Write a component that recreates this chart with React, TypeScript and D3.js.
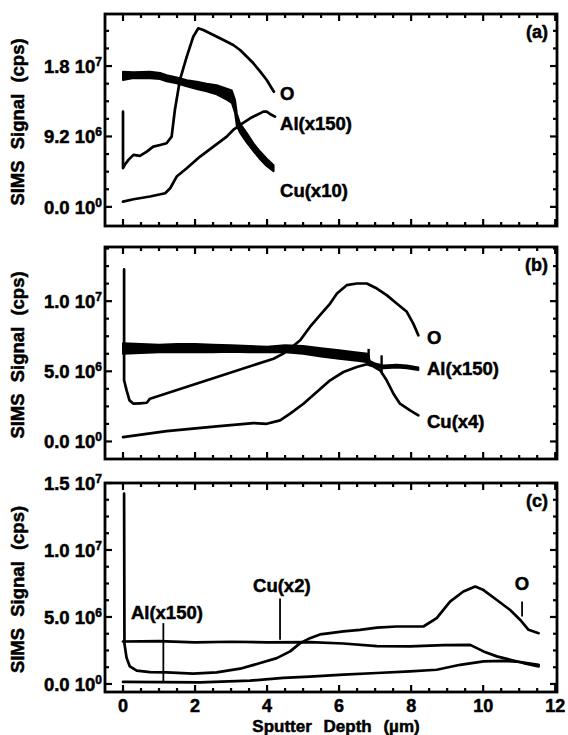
import React, { useRef, useEffect } from 'react';
import * as d3 from 'd3';

type Pt = [number, number];
type Band = [number, number, number];

// depth in um, signal in 1e6 cps
// panel (a)
const aO: Pt[] = [[0, 12.44], [0, 5.05], [0.05, 5.5], [0.15, 6.14], [0.29, 6.79], [0.47, 6.66], [0.66, 7.22], [0.84, 7.87], [1.03, 8.09], [1.21, 8.31], [1.35, 9.18], [1.44, 12.66], [1.58, 16.58], [1.77, 19.62], [1.95, 22.23], [2.09, 23.33], [2.23, 23.1], [2.51, 22.45], [2.79, 21.8], [3.06, 21.15], [3.25, 20.5], [3.44, 19.62], [3.62, 18.76], [3.81, 17.67], [3.99, 16.58], [4.13, 15.5], [4.19, 15.05]];
const aAl: Pt[] = [[0, 0.69], [0.29, 1.0], [0.75, 1.35], [1.17, 1.78], [1.31, 2.43], [1.49, 3.96], [1.77, 5.04], [2.14, 6.57], [2.51, 7.87], [2.88, 9.18], [3.06, 10.05], [3.25, 10.7], [3.53, 11.57], [3.71, 12.01], [3.9, 12.44], [3.99, 12.44], [4.08, 12.14], [4.22, 11.79]];
// noisy trace: depth, upper, lower
const aCu: Band[] = [[0, 17.67, 16.58], [0.29, 17.6, 16.85], [0.75, 17.67, 16.8], [1.03, 17.5, 16.7], [1.21, 17.2, 16.4], [1.49, 16.9, 16.15], [1.77, 16.55, 15.75], [2.05, 16.35, 15.4], [2.32, 16.1, 15.1], [2.6, 15.9, 14.7], [2.88, 15.45, 14.0], [3.02, 15.2, 13.6], [3.11, 13.97, 12.3], [3.16, 12.2, 10.6], [3.25, 10.9, 9.7], [3.44, 9.6, 8.4], [3.62, 8.3, 7.3], [3.81, 7.2, 6.2], [3.99, 6.3, 5.35], [4.18, 5.45, 4.65]];

// panel (b)
const bO: Pt[] = [[0.03, 12.26], [0.03, 4.36], [0.1, 3.64], [0.18, 2.93], [0.29, 2.69], [0.47, 2.72], [0.66, 2.76], [0.75, 3.05], [4.18, 5.9], [4.45, 6.26], [4.64, 6.62], [4.92, 7.21], [5.19, 8.16], [5.47, 9.0], [5.75, 9.83], [5.94, 10.55], [6.21, 11.14], [6.49, 11.26], [6.77, 11.26], [7.05, 10.9], [7.32, 10.43], [7.6, 9.83], [7.88, 9.24], [8.06, 8.4], [8.2, 7.57]];
const bAl: Band[] = [[0, 7.0, 6.25], [0.5, 6.95, 6.3], [1.0, 6.9, 6.35], [1.5, 6.95, 6.35], [2.0, 6.95, 6.35], [2.5, 6.9, 6.35], [3.0, 6.85, 6.4], [3.5, 6.8, 6.35], [4.0, 6.75, 6.35], [4.5, 6.85, 6.35], [5.0, 6.8, 6.25], [5.5, 6.65, 6.05], [6.0, 6.5, 5.9], [6.5, 6.35, 5.75], [6.8, 6.25, 5.65], [6.85, 5.75, 5.5], [7.0, 5.55, 5.3], [7.23, 5.42, 5.22], [7.6, 5.47, 5.27], [7.88, 5.42, 5.22], [8.2, 5.28, 5.1]];
const bCu: Pt[] = [[0, 0.31], [1.21, 0.74], [2.6, 1.07], [3.62, 1.31], [3.99, 1.26], [4.36, 1.5], [4.64, 1.98], [5.01, 2.69], [5.38, 3.52], [5.75, 4.36], [6.12, 4.95], [6.49, 5.31], [6.77, 5.5], [6.95, 5.36], [7.14, 5.07], [7.32, 4.36], [7.51, 3.4], [7.69, 2.69], [7.97, 2.21], [8.2, 1.86]];
// short vertical glitches: depth, top, bottom
const bSpikes: Band[] = [[6.82, 6.6, 5.5], [7.18, 6.14, 4.95]];

// panel (c)
const cO: Pt[] = [[0.03, 14.2], [0.04, 3.0], [0.1, 1.93], [0.19, 1.31], [0.38, 0.99], [0.75, 0.89], [1.21, 0.87], [1.95, 0.77], [2.6, 0.87], [3.25, 1.14], [3.81, 1.56], [4.27, 1.93], [4.64, 2.43], [4.92, 3.05], [5.19, 3.42], [5.47, 3.7], [5.75, 3.79], [6.12, 3.92], [6.58, 4.04], [7.05, 4.21], [7.6, 4.29], [8.34, 4.29], [8.71, 4.91], [9.08, 6.15], [9.45, 6.9], [9.78, 7.27], [10.01, 7.01], [10.38, 6.27], [10.75, 5.52], [11.03, 4.78], [11.26, 4.04], [11.54, 3.79]];
const cAl: Pt[] = [[0, 3.17], [1.0, 3.2], [2.0, 3.1], [3.0, 3.15], [4.0, 3.1], [5.19, 3.12], [6.12, 3.02], [7.05, 2.82], [7.97, 2.8], [8.9, 2.9], [9.64, 2.92], [10.01, 2.43], [10.38, 2.06], [10.75, 1.81], [11.12, 1.56], [11.54, 1.31]];
const cCu: Pt[] = [[0, 0.15], [2.14, 0.12], [3.53, 0.25], [4.45, 0.45], [5.19, 0.55], [6.12, 0.69], [7.05, 0.82], [7.97, 0.94], [8.71, 1.06], [9.36, 1.43], [10.01, 1.68], [10.56, 1.73], [11.03, 1.64], [11.54, 1.43]];
const cPointers: Band[] = [[1.12, 4.54, 0.2], [4.36, 6.37, 3.3], [11.08, 6.15, 5.03]];

const depthTicks = [0, 2, 4, 6, 8, 10, 12];
const aYTicks = [0, 9.2, 18.4];
const aYLabels = [['0.0', '0'], ['9.2', '6'], ['1.8', '7']];
const bYTicks = [0, 5, 10];
const bYLabels = [['0.0', '0'], ['5.0', '6'], ['1.0', '7']];
const cYTicks = [0, 5, 10, 15];
const cYLabels = [['0.0', '0'], ['5.0', '6'], ['1.0', '7'], ['1.5', '7']];

const aNames = [{ text: 'O', d: 4.36, v: 14.88 }, { text: 'Al(x150)', d: 4.36, v: 10.96 }, { text: 'Cu(x10)', d: 4.36, v: 2.2 }];
const bNames = [{ text: 'O', d: 8.44, v: 7.45 }, { text: 'Al(x150)', d: 8.44, v: 5.24 }, { text: 'Cu(x4)', d: 8.44, v: 1.46 }];
const cNames = [{ text: 'Al(x150)', d: 0.22, v: 5.37 }, { text: 'Cu(x2)', d: 3.61, v: 7.39 }, { text: 'O', d: 11.08, v: 7.54, mid: true }];

const FONT = "'Liberation Sans', Arial, Helvetica, sans-serif";

const App = () => {
  const svgRef = useRef<SVGSVGElement>(null);

  useEffect(() => {
    document.body.style.margin = '0';
    const svg = d3.select(svgRef.current);
    svg.selectAll('*').remove();

    const left = 105, right = 557;
    const x = d3.scaleLinear().domain([-0.5, 12.05]).range([left, right]);

    const panels = [
      { id: 'a', top: 14, bottom: 226, yDomain: [-2.5, 25.2], minor: 2.3, ticks: aYTicks, tickLabels: aYLabels, lines: [aO, aAl], bands: [aCu], spikes: [] as Band[], names: aNames, pointers: [] as Band[] },
      { id: 'b', top: 247, bottom: 459, yDomain: [-1.25, 13.86], minor: 1.25, ticks: bYTicks, tickLabels: bYLabels, lines: [bO, bCu], bands: [bAl], spikes: bSpikes, names: bNames, pointers: [] as Band[] },
      { id: 'c', top: 483, bottom: 692, yDomain: [-0.6, 15.0], minor: 1.25, ticks: cYTicks, tickLabels: cYLabels, lines: [cO, cAl, cCu], bands: [] as Band[][], spikes: [] as Band[], names: cNames, pointers: cPointers },
    ];

    svg.style('font-family', FONT).style('font-weight', 'bold');

    // heavier text like the scanned figure
    const bold = (t: any) => t.attr('stroke', '#000').attr('stroke-width', 0.5).attr('fill', '#000');

    panels.forEach((p, pi) => {
      const y = d3.scaleLinear().domain(p.yDomain).range([p.bottom, p.top]);
      const g = svg.append('g');

      const clipId = `clip-${p.id}`;
      svg.append('defs').append('clipPath').attr('id', clipId)
        .append('rect').attr('x', left).attr('y', p.top).attr('width', right - left).attr('height', p.bottom - p.top);

      // x ticks top & bottom
      const xMinor = d3.range(0, 12.01, 0.5);
      xMinor.forEach(t => {
        const major = depthTicks.includes(t);
        const len = major ? 7 : 4;
        g.append('line').attr('x1', x(t)).attr('x2', x(t)).attr('y1', p.top).attr('y2', p.top + len)
          .attr('stroke', '#000').attr('stroke-width', 2.2);
        g.append('line').attr('x1', x(t)).attr('x2', x(t)).attr('y1', p.bottom).attr('y2', p.bottom - len)
          .attr('stroke', '#000').attr('stroke-width', 2.2);
      });

      // y ticks left & right
      const yMinor = d3.range(0, p.yDomain[1] + 0.01, p.minor);
      yMinor.forEach(t => {
        const major = p.ticks.some(m => Math.abs(m - t) < 0.01);
        const len = major ? 7 : 4;
        g.append('line').attr('x1', left).attr('x2', left + len).attr('y1', y(t)).attr('y2', y(t))
          .attr('stroke', '#000').attr('stroke-width', 2.2);
        g.append('line').attr('x1', right).attr('x2', right - len).attr('y1', y(t)).attr('y2', y(t))
          .attr('stroke', '#000').attr('stroke-width', 2.2);
      });

      // y tick labels
      p.ticks.forEach((t, i) => {
        const [mant, exp] = p.tickLabels[i];
        const txt = g.append('text').attr('x', left - 3).attr('y', y(t)).attr('dy', '0.36em')
          .attr('text-anchor', 'end').style('font-size', '18.5px');
        bold(txt);
        txt.append('tspan').text(`${mant} 10`);
        txt.append('tspan').attr('dy', -7).style('font-size', '12px').text(exp);
      });

      // frame
      g.append('rect').attr('x', left).attr('y', p.top).attr('width', right - left).attr('height', p.bottom - p.top)
        .attr('fill', 'none').attr('stroke', '#000').attr('stroke-width', 2.8);

      const plot = g.append('g').attr('clip-path', `url(#${clipId})`);
      const line = d3.line<Pt>().x(d => x(d[0])).y(d => y(d[1]));
      const area = d3.area<Band>().x(d => x(d[0])).y0(d => y(d[2])).y1(d => y(d[1]));

      p.bands.forEach(b => {
        plot.append('path').attr('d', area(b)).attr('fill', '#000').attr('stroke', '#000').attr('stroke-width', 2)
          .attr('stroke-linejoin', 'round');
      });
      p.lines.forEach(l => {
        plot.append('path').attr('d', line(l)).attr('fill', 'none').attr('stroke', '#000').attr('stroke-width', 2.7)
          .attr('stroke-linejoin', 'round').attr('stroke-linecap', 'round');
      });
      p.spikes.forEach(s => {
        plot.append('line').attr('x1', x(s[0])).attr('x2', x(s[0])).attr('y1', y(s[1])).attr('y2', y(s[2]))
          .attr('stroke', '#000').attr('stroke-width', 2.4);
      });
      p.pointers.forEach(s => {
        g.append('line').attr('x1', x(s[0])).attr('x2', x(s[0])).attr('y1', y(s[1])).attr('y2', y(s[2]))
          .attr('stroke', '#000').attr('stroke-width', 1.8);
      });

      // series names
      p.names.forEach((n: any) => {
        bold(g.append('text').attr('x', x(n.d)).attr('y', y(n.v)).attr('dy', '0.36em')
          .attr('text-anchor', n.mid ? 'middle' : 'start').style('font-size', '18.5px').text(n.text));
      });

      // panel tag
      bold(g.append('text').attr('x', right - 9).attr('y', p.top + 18).attr('dy', '0.36em')
        .attr('text-anchor', 'end').style('font-size', '18px').text(`(${p.id})`));

      // y title
      const cy = (p.top + p.bottom) / 2 + 2;
      bold(g.append('text').attr('transform', `translate(24,${cy}) rotate(-90)`)
        .attr('text-anchor', 'middle').style('font-size', '18.5px').style('word-spacing', '6px')
        .text('SIMS Signal (cps)'));

      if (pi === panels.length - 1) {
        depthTicks.forEach(t => {
          bold(g.append('text').attr('x', x(t)).attr('y', p.bottom + 20).attr('text-anchor', 'middle')
            .style('font-size', '18px').text(t));
        });
        bold(g.append('text').attr('x', 336).attr('y', p.bottom + 40).attr('text-anchor', 'middle')
          .style('font-size', '17px').style('word-spacing', '7px').text('Sputter Depth (\u00b5m)'));
      }
    });
  }, []);

  return <svg ref={svgRef} width={568} height={735} style={{ display: 'block', background: '#fff' }} />;
};

export default App;
